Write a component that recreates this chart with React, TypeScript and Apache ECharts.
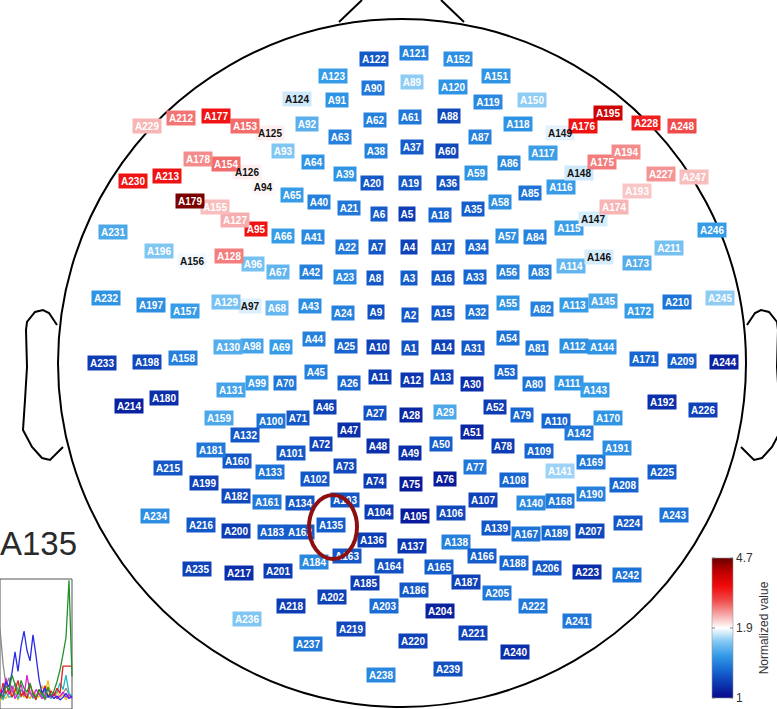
import React, { useEffect, useRef } from "react";
import * as echarts from "echarts";

// [sensor name, x, y, normalized value]
const sensors: [string, number, number, number][] = [
  ["A1", 410, 348, 1.28], ["A2", 410, 315, 1.3], ["A3", 409, 278, 1.32], ["A4", 409, 247, 1.22],
  ["A5", 407, 214, 1.2], ["A6", 379, 214, 1.32], ["A7", 377, 247, 1.3], ["A8", 375, 278, 1.3],
  ["A9", 376, 312, 1.28], ["A10", 378, 347, 1.22], ["A11", 380, 377, 1.2], ["A12", 412, 380, 1.18],
  ["A13", 442, 377, 1.22], ["A14", 443, 347, 1.22], ["A15", 443, 313, 1.3], ["A16", 443, 278, 1.3],
  ["A17", 443, 247, 1.3], ["A18", 440, 215, 1.35], ["A19", 410, 183, 1.3], ["A20", 372, 183, 1.3],
  ["A21", 349, 208, 1.42], ["A22", 347, 247, 1.42], ["A23", 345, 277, 1.48], ["A24", 343, 313, 1.45],
  ["A25", 346, 346, 1.35], ["A26", 349, 383, 1.35], ["A27", 375, 413, 1.28], ["A28", 411, 415, 1.12],
  ["A29", 445, 412, 1.6], ["A30", 472, 384, 1.15], ["A31", 473, 348, 1.3], ["A32", 477, 312, 1.4],
  ["A33", 475, 277, 1.35], ["A34", 477, 247, 1.35], ["A35", 473, 209, 1.32], ["A36", 448, 183, 1.28],
  ["A37", 412, 147, 1.32], ["A38", 376, 151, 1.45], ["A39", 345, 174, 1.52], ["A40", 319, 202, 1.45],
  ["A41", 313, 237, 1.48], ["A42", 311, 272, 1.45], ["A43", 310, 306, 1.5], ["A44", 314, 339, 1.45],
  ["A45", 316, 372, 1.45], ["A46", 325, 407, 1.22], ["A47", 349, 430, 1.15], ["A48", 378, 446, 1.15],
  ["A49", 410, 453, 1.15], ["A50", 441, 444, 1.32], ["A51", 472, 432, 1.12], ["A52", 495, 407, 1.2],
  ["A53", 506, 372, 1.35], ["A54", 508, 338, 1.4], ["A55", 508, 303, 1.52], ["A56", 508, 272, 1.45],
  ["A57", 507, 236, 1.5], ["A58", 500, 202, 1.5], ["A59", 476, 173, 1.52], ["A60", 447, 151, 1.25],
  ["A61", 410, 117, 1.42], ["A62", 375, 120, 1.45], ["A63", 340, 137, 1.45], ["A64", 313, 162, 1.52],
  ["A65", 292, 195, 1.55], ["A66", 283, 236, 1.55], ["A67", 278, 272, 1.65], ["A68", 277, 308, 1.66],
  ["A69", 281, 347, 1.55], ["A70", 285, 383, 1.42], ["A71", 298, 418, 1.3], ["A72", 321, 444, 1.22],
  ["A73", 345, 466, 1.25], ["A74", 375, 481, 1.2], ["A75", 411, 484, 1.08], ["A76", 445, 479, 1.08],
  ["A77", 475, 467, 1.42], ["A78", 503, 446, 1.2], ["A79", 522, 415, 1.35], ["A80", 534, 384, 1.4],
  ["A81", 537, 348, 1.42], ["A82", 542, 309, 1.45], ["A83", 540, 272, 1.45], ["A84", 535, 237, 1.45],
  ["A85", 530, 193, 1.4], ["A86", 509, 163, 1.48], ["A87", 480, 137, 1.45], ["A88", 449, 116, 1.25],
  ["A89", 412, 82, 1.74], ["A90", 373, 88, 1.42], ["A91", 337, 100, 1.52], ["A92", 307, 124, 1.63],
  ["A93", 283, 151, 1.72], ["A94", 263, 187, 1.95], ["A95", 256, 229, 3.5], ["A96", 253, 264, 1.7],
  ["A97", 250, 306, 1.85], ["A98", 252, 346, 1.58], ["A99", 257, 383, 1.55], ["A100", 271, 421, 1.4],
  ["A101", 291, 453, 1.3], ["A102", 315, 479, 1.3], ["A103", 345, 500, 1.3], ["A104", 379, 512, 1.2],
  ["A105", 415, 516, 1.08], ["A106", 451, 513, 1.25], ["A107", 483, 500, 1.22], ["A108", 514, 480, 1.35],
  ["A109", 539, 451, 1.35], ["A110", 556, 421, 1.35], ["A111", 569, 383, 1.52], ["A112", 574, 346, 1.5],
  ["A113", 574, 305, 1.55], ["A114", 571, 266, 1.65], ["A115", 569, 228, 1.56], ["A116", 561, 187, 1.55],
  ["A117", 543, 153, 1.56], ["A118", 518, 124, 1.52], ["A119", 488, 102, 1.48], ["A120", 453, 87, 1.52],
  ["A121", 414, 53, 1.45], ["A122", 374, 59, 1.3], ["A123", 333, 76, 1.55], ["A124", 297, 99, 1.83],
  ["A125", 270, 133, 2.0], ["A126", 247, 172, 2.0], ["A127", 235, 220, 2.4], ["A128", 229, 256, 2.7],
  ["A129", 226, 302, 1.7], ["A130", 228, 347, 1.62], ["A131", 231, 390, 1.58], ["A132", 245, 435, 1.3],
  ["A133", 270, 472, 1.4], ["A134", 300, 503, 1.3], ["A135", 331, 525, 1.32], ["A136", 372, 540, 1.2],
  ["A137", 412, 546, 1.18], ["A138", 456, 542, 1.45], ["A139", 496, 528, 1.3], ["A140", 531, 503, 1.48],
  ["A141", 560, 471, 1.76], ["A142", 579, 433, 1.42], ["A143", 595, 390, 1.55], ["A144", 602, 347, 1.52],
  ["A145", 603, 301, 1.6], ["A146", 599, 257, 1.84], ["A147", 593, 219, 1.84], ["A148", 579, 173, 1.83],
  ["A149", 560, 133, 1.86], ["A150", 532, 100, 1.74], ["A151", 496, 76, 1.52], ["A152", 458, 59, 1.5],
  ["A153", 245, 126, 2.8], ["A154", 226, 164, 2.8], ["A155", 215, 207, 2.3], ["A156", 192, 261, 1.88],
  ["A157", 185, 311, 1.55], ["A158", 183, 358, 1.45], ["A159", 219, 418, 1.6], ["A160", 237, 461, 1.3],
  ["A161", 267, 502, 1.42], ["A162", 300, 532, 1.32], ["A163", 347, 556, 1.3], ["A164", 389, 566, 1.28],
  ["A165", 439, 567, 1.32], ["A166", 482, 556, 1.32], ["A167", 526, 534, 1.4], ["A168", 560, 501, 1.42],
  ["A169", 591, 462, 1.42], ["A170", 608, 418, 1.52], ["A171", 644, 359, 1.35], ["A172", 639, 311, 1.55],
  ["A173", 637, 263, 1.62], ["A174", 614, 207, 2.35], ["A175", 602, 162, 2.7], ["A176", 583, 126, 3.5],
  ["A177", 216, 116, 3.5], ["A178", 198, 159, 2.6], ["A179", 190, 201, 4.6], ["A180", 164, 398, 1.15],
  ["A181", 211, 450, 1.42], ["A182", 236, 496, 1.25], ["A183", 272, 532, 1.32], ["A184", 314, 562, 1.48],
  ["A185", 365, 583, 1.2], ["A186", 414, 590, 1.3], ["A187", 466, 582, 1.22], ["A188", 514, 563, 1.35],
  ["A189", 556, 533, 1.35], ["A190", 591, 494, 1.45], ["A191", 617, 448, 1.5], ["A192", 662, 402, 1.15],
  ["A193", 637, 191, 2.25], ["A194", 626, 152, 2.6], ["A195", 608, 113, 4.0], ["A196", 159, 251, 1.72],
  ["A197", 151, 305, 1.5], ["A198", 147, 362, 1.25], ["A199", 204, 483, 1.22], ["A200", 236, 531, 1.2],
  ["A201", 278, 571, 1.2], ["A202", 332, 597, 1.22], ["A203", 384, 606, 1.38], ["A204", 440, 611, 1.1],
  ["A205", 497, 593, 1.42], ["A206", 547, 568, 1.3], ["A207", 590, 531, 1.25], ["A208", 624, 485, 1.35],
  ["A209", 682, 361, 1.32], ["A210", 677, 302, 1.4], ["A211", 669, 248, 1.7], ["A212", 181, 118, 2.75],
  ["A213", 167, 176, 3.5], ["A214", 129, 406, 1.1], ["A215", 168, 468, 1.3], ["A216", 201, 525, 1.3],
  ["A217", 239, 573, 1.15], ["A218", 291, 606, 1.2], ["A219", 351, 629, 1.25], ["A220", 413, 641, 1.22],
  ["A221", 473, 633, 1.22], ["A222", 533, 606, 1.42], ["A223", 587, 572, 1.15], ["A224", 628, 523, 1.3],
  ["A225", 662, 472, 1.32], ["A226", 703, 410, 1.22], ["A227", 661, 174, 2.55], ["A228", 646, 123, 3.4],
  ["A229", 147, 126, 2.35], ["A230", 133, 181, 3.5], ["A231", 113, 232, 1.6], ["A232", 106, 298, 1.52],
  ["A233", 102, 363, 1.2], ["A234", 155, 516, 1.5], ["A235", 197, 569, 1.22], ["A236", 247, 619, 1.72],
  ["A237", 308, 644, 1.42], ["A238", 381, 675, 1.48], ["A239", 448, 669, 1.28], ["A240", 515, 652, 1.15],
  ["A241", 577, 621, 1.42], ["A242", 627, 575, 1.4], ["A243", 674, 515, 1.4], ["A244", 724, 362, 1.1],
  ["A245", 720, 298, 1.74], ["A246", 712, 230, 1.55], ["A247", 694, 177, 2.3], ["A248", 682, 126, 3.0],
];

// colour bar
const scaleMin = 1;
const scaleMid = 1.9;
const scaleMax = 4.7;
const barTicks = ["4.7", "1.9", "1"];
const barTitle = "Normalized value";

// inset (cropped traces of A135)
const insetTitle = "A135";
const insetX = [0, 1, 2, 3, 4, 5, 6, 7, 8, 9, 10, 11, 12, 13, 14, 15, 16, 17, 18, 19, 20, 21, 22, 23, 24];
const traceGray = [6.2, 3.5, 1.8, 2.4, 1.2, 2.0, 1.5, 0.9, 1.4, 1.1, 0.8, 1.3, 0.9, 1.2, 1.0, 0.7, 1.1, 0.9, 1.3, 0.8, 1.0, 1.2, 1.6, 1.1, 0.9];
const traceBlue = [1.0, 1.4, 2.1, 1.7, 2.8, 4.4, 2.9, 4.8, 6.0, 4.5, 3.7, 5.7, 4.1, 2.3, 1.2, 1.6, 0.9, 1.1, 0.8, 1.0, 0.7, 0.9, 1.2, 0.8, 1.0];
const traceGreen = [1.2, 0.9, 1.8, 1.4, 2.6, 1.9, 1.1, 2.2, 1.6, 1.3, 2.0, 1.1, 0.9, 1.5, 1.2, 0.8, 1.7, 1.0, 1.4, 2.1, 3.0, 4.2, 5.5, 9.9, 2.5];
const traceRed = [0.8, 2.0, 1.2, 1.6, 0.9, 1.4, 2.2, 1.0, 1.3, 0.8, 1.9, 1.2, 0.7, 1.5, 1.1, 1.8, 0.9, 1.4, 1.0, 1.6, 1.2, 3.3, 3.3, 3.3, 3.3];
const traceMagenta = [1.5, 0.9, 2.4, 1.1, 1.8, 0.8, 1.2, 1.9, 1.0, 2.6, 1.3, 0.9, 1.5, 1.2, 0.8, 1.1, 1.6, 0.9, 1.2, 0.8, 1.0, 1.3, 0.9, 1.1, 0.8];
const traceYellow = [0.6, 1.0, 0.8, 1.3, 0.9, 1.6, 0.7, 1.2, 0.9, 1.0, 0.8, 1.4, 1.1, 0.9, 1.8, 1.2, 2.2, 1.0, 0.8, 1.3, 0.9, 1.1, 0.7, 1.0, 0.9];
const traceCyan = [1.1, 0.7, 1.3, 0.9, 1.0, 1.2, 0.8, 1.5, 1.1, 0.9, 1.3, 0.8, 1.0, 1.2, 0.9, 1.4, 1.0, 0.8, 1.1, 1.3, 2.0, 1.5, 2.6, 1.2, 1.0];

const palette = [
  "#08088a", "#0c36b0", "#1868d2", "#3399e6", "#80c6f3", "#ffffff",
  "#f5a3a3", "#f04848", "#f00a0a", "#c20000", "#6a0000",
];

function toT(v: number) {
  return v <= scaleMid
    ? (0.5 * (v - scaleMin)) / (scaleMid - scaleMin)
    : 0.5 + (0.5 * (v - scaleMid)) / (scaleMax - scaleMid);
}

const LABEL_FONT = '"Liberation Sans", Arial, Helvetica, sans-serif';

export default function App() {
  const ref = useRef<HTMLDivElement>(null);

  useEffect(() => {
    document.body.style.margin = "0";
    if (!ref.current) return;
    const chart = echarts.init(ref.current, null, { renderer: "svg" });

    const sensorData = sensors.map(([name, x, y, v]) => {
      const t = toT(v);
      const dark = t > 0.44 && t < 0.55;
      return {
        name,
        value: [x, y, v, t],
        symbolSize: [6 * name.length + 5, 15],
        label: { color: dark ? "#111" : "#fff" },
      };
    });

    const traces: [number[], string][] = [
      [traceGray, "#8a8a8a"],
      [traceYellow, "#e6c21e"],
      [traceCyan, "#22b8c0"],
      [traceMagenta, "#e020d8"],
      [traceRed, "#e02020"],
      [traceBlue, "#2a2ae6"],
      [traceGreen, "#23902a"],
    ];

    const leftEar = [
      [57, 325], [49, 313], [43, 310], [35, 312], [27, 322], [26, 330], [27, 367],
      [25, 400], [23, 430], [32, 447], [42, 458], [50, 460], [63, 447],
    ];
    const rightEar = leftEar.map(([x, y]) => [804 - x, y]);

    const barX = 712, barTop = 558, barW = 21, barH = 140;
    const gradStops = palette.map((c, i) => ({ offset: 1 - i / (palette.length - 1), color: c })).reverse();

    chart.setOption({
      animation: false,
      grid: [
        { left: 0, top: 0, width: 777, height: 709 },
        { left: -2, top: 579, width: 74, height: 140, show: true, borderColor: "#555", borderWidth: 1 },
      ],
      xAxis: [
        { type: "value", min: 0, max: 777, show: false, gridIndex: 0 },
        { type: "value", min: 0, max: 24, show: false, gridIndex: 1 },
      ],
      yAxis: [
        { type: "value", min: 0, max: 709, inverse: true, show: false, gridIndex: 0 },
        { type: "value", min: 0, max: 10, show: false, gridIndex: 1 },
      ],
      visualMap: {
        type: "continuous",
        show: false,
        seriesIndex: 0,
        dimension: 3,
        min: 0,
        max: 1,
        inRange: { color: palette },
      },
      series: [
        {
          type: "scatter",
          xAxisIndex: 0,
          yAxisIndex: 0,
          symbol: "rect",
          data: sensorData,
          z: 3,
          silent: true,
          itemStyle: { opacity: 1 },
          label: {
            show: true,
            position: "inside",
            formatter: "{b}",
            fontSize: 10,
            fontWeight: "bold",
            fontFamily: LABEL_FONT,
          },
          emphasis: { disabled: true },
        },
        ...traces.map(([arr, color]) => ({
          type: "line",
          xAxisIndex: 1,
          yAxisIndex: 1,
          showSymbol: false,
          symbol: "none",
          silent: true,
          clip: true,
          lineStyle: { color, width: 1.3 },
          data: insetX.map((x, i) => [x, arr[i]]),
        })),
      ],
      graphic: [
        {
          type: "circle",
          z: 1,
          silent: true,
          shape: { cx: 402, cy: 363, r: 344 },
          style: { fill: "none", stroke: "#000", lineWidth: 2 },
        },
        {
          type: "polyline",
          z: 1,
          silent: true,
          shape: { points: leftEar },
          style: { fill: "none", stroke: "#000", lineWidth: 2 },
        },
        {
          type: "polyline",
          z: 1,
          silent: true,
          shape: { points: rightEar },
          style: { fill: "none", stroke: "#000", lineWidth: 2 },
        },
        {
          type: "line",
          z: 1,
          silent: true,
          shape: { x1: 339, y1: 22, x2: 362, y2: 0 },
          style: { stroke: "#000", lineWidth: 2 },
        },
        {
          type: "line",
          z: 1,
          silent: true,
          shape: { x1: 441, y1: 0, x2: 464, y2: 22 },
          style: { stroke: "#000", lineWidth: 2 },
        },
        {
          type: "ellipse",
          z: 100,
          silent: true,
          shape: { cx: 333, cy: 527, rx: 24, ry: 32 },
          style: { fill: "none", stroke: "#8e0f0f", lineWidth: 4 },
        },
        {
          type: "text",
          z: 10,
          silent: true,
          style: {
            text: insetTitle,
            x: 0,
            y: 543,
            verticalAlign: "middle",
            font: '33px "Liberation Sans", Arial, sans-serif',
            fill: "#2a2a2a",
          },
        },
        {
          type: "rect",
          z: 10,
          silent: true,
          shape: { x: barX, y: barTop, width: barW, height: barH },
          style: {
            fill: new echarts.graphic.LinearGradient(0, 0, 0, 1, gradStops),
            stroke: "#999",
            lineWidth: 0.6,
          },
        },
        ...[0, 0.5, 1].map((f) => ({
          type: "line",
          z: 11,
          silent: true,
          shape: { x1: barX, y1: barTop + f * barH, x2: barX + 3, y2: barTop + f * barH },
          style: { stroke: "#666", lineWidth: 0.8 },
        })),
        ...[0, 0.5, 1].map((f) => ({
          type: "line",
          z: 11,
          silent: true,
          shape: { x1: barX + barW - 3, y1: barTop + f * barH, x2: barX + barW, y2: barTop + f * barH },
          style: { stroke: "#666", lineWidth: 0.8 },
        })),
        ...barTicks.map((txt, i) => ({
          type: "text",
          z: 11,
          silent: true,
          style: {
            text: txt,
            x: barX + barW + 3,
            y: barTop + (i * barH) / 2,
            verticalAlign: "middle",
            font: '12px "Liberation Sans", Arial, sans-serif',
            fill: "#333",
          },
        })),
        {
          type: "text",
          z: 11,
          silent: true,
          x: 764,
          y: 628,
          rotation: Math.PI / 2,
          style: {
            text: barTitle,
            x: 0,
            y: 0,
            align: "center",
            verticalAlign: "middle",
            font: '12px "Liberation Sans", Arial, sans-serif',
            fill: "#333",
          },
        },
      ],
    });

    return () => chart.dispose();
  }, []);

  return <div ref={ref} style={{ width: 777, height: 709 }} />;
}
